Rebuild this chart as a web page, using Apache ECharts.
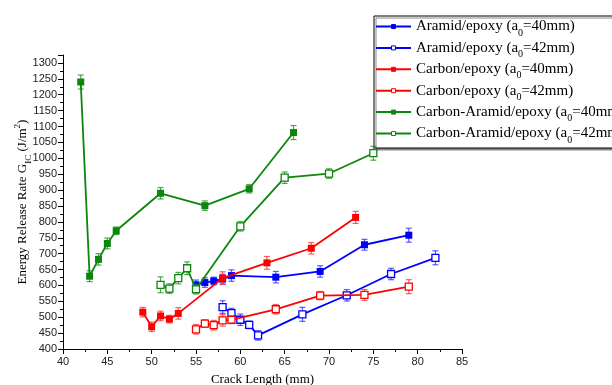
<!DOCTYPE html>
<html><head><meta charset="utf-8">
<script src="https://cdn.jsdelivr.net/npm/echarts@6/dist/echarts.min.js"></script>
<style>html,body{margin:0;padding:0;background:#fff}#c{width:612px;height:385px}</style>
</head><body><div id="c"></div>
<script>
// ---- data ----
const aramid40X = [55, 56, 57, 58, 59, 64, 69, 74, 79];
const aramid40Y = [602, 609, 614, 620, 631, 626, 644, 728, 758];
const aramid40E = [15, 15, 12, 15, 18, 18, 18, 17, 22];

const aramid42X = [58, 59, 60, 61, 62, 67, 72, 77, 82];
const aramid42Y = [532, 513, 492, 476, 443, 509, 569, 636, 687];
const aramid42E = [20, 15, 18, 12, 15, 22, 18, 18, 22];

const carbon40X = [49, 50, 51, 52, 53, 58, 63, 68, 73];
const carbon40Y = [516, 470, 504, 494, 512, 623, 671, 717, 814];
const carbon40E = [15, 15, 15, 12, 18, 20, 20, 18, 19];

const carbon42X = [55, 56, 57, 58, 59, 64, 69, 74, 79];
const carbon42Y = [462, 480, 475, 490, 492, 525, 568, 570, 596];
const carbon42E = [15, 12, 15, 18, 12, 15, 13, 17, 22];

const caramid40X = [42, 43, 44, 45, 46, 51, 56, 61, 66];
const caramid40Y = [1240, 629, 682, 732, 772, 890, 851, 904, 1081];
const caramid40E = [22, 17, 18, 17, 12, 18, 15, 13, 22];

const caramid42X = [51, 52, 53, 54, 55, 60, 65, 70, 75];
const caramid42Y = [602, 590, 623, 654, 588, 786, 939, 952, 1016];
const caramid42E = [25, 15, 18, 20, 15, 15, 18, 15, 22];

const seriesNames = [
  'Aramid/epoxy (a0=40mm)', 'Aramid/epoxy (a0=42mm)',
  'Carbon/epoxy (a0=40mm)', 'Carbon/epoxy (a0=42mm)',
  'Carbon-Aramid/epoxy (a0=40mm)', 'Carbon-Aramid/epoxy (a0=42mm)'
];
const legendLabels = [
  'Aramid/epoxy (a{sub|0}=40mm)', 'Aramid/epoxy (a{sub|0}=42mm)',
  'Carbon/epoxy (a{sub|0}=40mm)', 'Carbon/epoxy (a{sub|0}=42mm)',
  'Carbon-Aramid/epoxy (a{sub|0}=40mm)', 'Carbon-Aramid/epoxy (a{sub|0}=42mm)'
];
const xTicks = {min: 40, max: 85, interval: 5};
const yTicks = {min: 400, max: 1325, interval: 50};

// ---- build ----
const BLUE = '#0000ff', RED = '#ff0000', GREEN = '#0b870b';
const defs = [
  {x: aramid40X, y: aramid40Y, e: aramid40E, c: BLUE, filled: true, eb: 'rgba(40,40,255,0.75)'},
  {x: aramid42X, y: aramid42Y, e: aramid42E, c: BLUE, filled: false, eb: 'rgba(40,40,255,0.75)'},
  {x: carbon40X, y: carbon40Y, e: carbon40E, c: RED, filled: true, eb: 'rgba(255,40,40,0.75)'},
  {x: carbon42X, y: carbon42Y, e: carbon42E, c: RED, filled: false, eb: 'rgba(255,40,40,0.75)'},
  {x: caramid40X, y: caramid40Y, e: caramid40E, c: GREEN, filled: true, eb: 'rgba(30,140,30,0.75)'},
  {x: caramid42X, y: caramid42Y, e: caramid42E, c: GREEN, filled: false, eb: 'rgba(30,140,30,0.75)'}
];

function errRender(color) {
  return function (params, api) {
    const x = api.value(0), y = api.value(1), e = api.value(2);
    const t = api.coord([x, y + e]), b = api.coord([x, y - e]);
    const w = 3;
    const st = {stroke: color, lineWidth: 1.2};
    return {type: 'group', children: [
      {type: 'line', shape: {x1: t[0], y1: t[1], x2: b[0], y2: b[1]}, style: st},
      {type: 'line', shape: {x1: t[0] - w, y1: t[1], x2: t[0] + w, y2: t[1]}, style: st},
      {type: 'line', shape: {x1: b[0] - w, y1: b[1], x2: b[0] + w, y2: b[1]}, style: st}
    ]};
  };
}

const series = [];
defs.forEach((d, i) => {
  series.push({
    type: 'custom', name: 'err' + i, z: 2 + i * 2,
    renderItem: errRender(d.eb),
    data: d.x.map((xv, k) => [xv, d.y[k], d.e[k]]),
    silent: true
  });
  series.push({
    type: 'line', name: seriesNames[i], z: 3 + i * 2,
    data: d.x.map((xv, k) => [xv, d.y[k]]),
    symbol: 'rect', symbolSize: 7,
    lineStyle: {color: d.c, width: 1.8},
    itemStyle: {color: d.filled ? d.c : '#ffffff', borderColor: d.c, borderWidth: d.filled ? 0 : 1.3},
    animation: false
  });
});

const chart = echarts.init(document.getElementById('c'), null, {renderer: 'canvas'});
const serif = 'Liberation Serif';
const sans = 'Liberation Sans';
chart.setOption({
  animation: false,
  backgroundColor: '#fff',
  grid: {left: 63, right: 150, top: 55, bottom: 36, containLabel: false, outerBoundsMode: 'none'},
  xAxis: {
    type: 'value', min: xTicks.min, max: xTicks.max, interval: xTicks.interval,
    name: 'Crack Length (mm)', nameLocation: 'middle', nameGap: 24, nameMoveOverlap: false,
    nameTextStyle: {fontFamily: serif, fontSize: 13, color: '#000'},
    axisLine: {lineStyle: {color: '#000', width: 1}},
    axisTick: {inside: false, length: 5, lineStyle: {color: '#000'}},
    minorTick: {show: true, splitNumber: 2, length: 3, lineStyle: {color: '#000'}},
    axisLabel: {fontFamily: sans, fontSize: 11, color: '#222', margin: 7, formatter: v => String(v)},
    splitLine: {show: false}
  },
  yAxis: {
    type: 'value', min: yTicks.min, max: yTicks.max, interval: yTicks.interval,
    name: 'Energy Release Rate G{sub|IC} (J/m{sup|2})', nameLocation: 'middle', nameGap: 34, nameMoveOverlap: false,
    nameTextStyle: {fontFamily: serif, fontSize: 13, color: '#000',
      rich: {
        sub: {fontFamily: serif, fontSize: 9, color: '#000', verticalAlign: 'bottom', padding: [0, 0, -4, 0]},
        sup: {fontFamily: serif, fontSize: 9, color: '#000', verticalAlign: 'top', padding: [-3, 0, 0, 0]}
      }},
    axisLine: {show: true, lineStyle: {color: '#000', width: 1}},
    axisTick: {show: true, inside: false, length: 5, lineStyle: {color: '#000'}},
    minorTick: {show: true, splitNumber: 2, length: 3, lineStyle: {color: '#000'}},
    axisLabel: {fontFamily: sans, fontSize: 11, color: '#222', margin: 6, showMaxLabel: false, formatter: v => String(v)},
    splitLine: {show: false}
  },
  legend: {
    orient: 'vertical', left: 374, top: 16,
    data: seriesNames,
    itemWidth: 35, itemHeight: 5, itemGap: 1.4,
    padding: [2, 6, 3, 1],
    borderColor: '#000', borderWidth: 1, backgroundColor: '#fff',
    shadowColor: '#888', shadowOffsetX: 2, shadowOffsetY: 2, shadowBlur: 0,
    itemStyle: {borderWidth: 1},
    formatter: function (name) { return legendLabels[seriesNames.indexOf(name)]; },
    textStyle: {fontFamily: serif, fontSize: 15, color: '#000', lineHeight: 17,
      rich: {sub: {fontFamily: serif, fontSize: 10, color: '#000', verticalAlign: 'bottom', padding: [0, 0, -3, 0]}}}
  },
  series: series
});
</script>
</body></html>
